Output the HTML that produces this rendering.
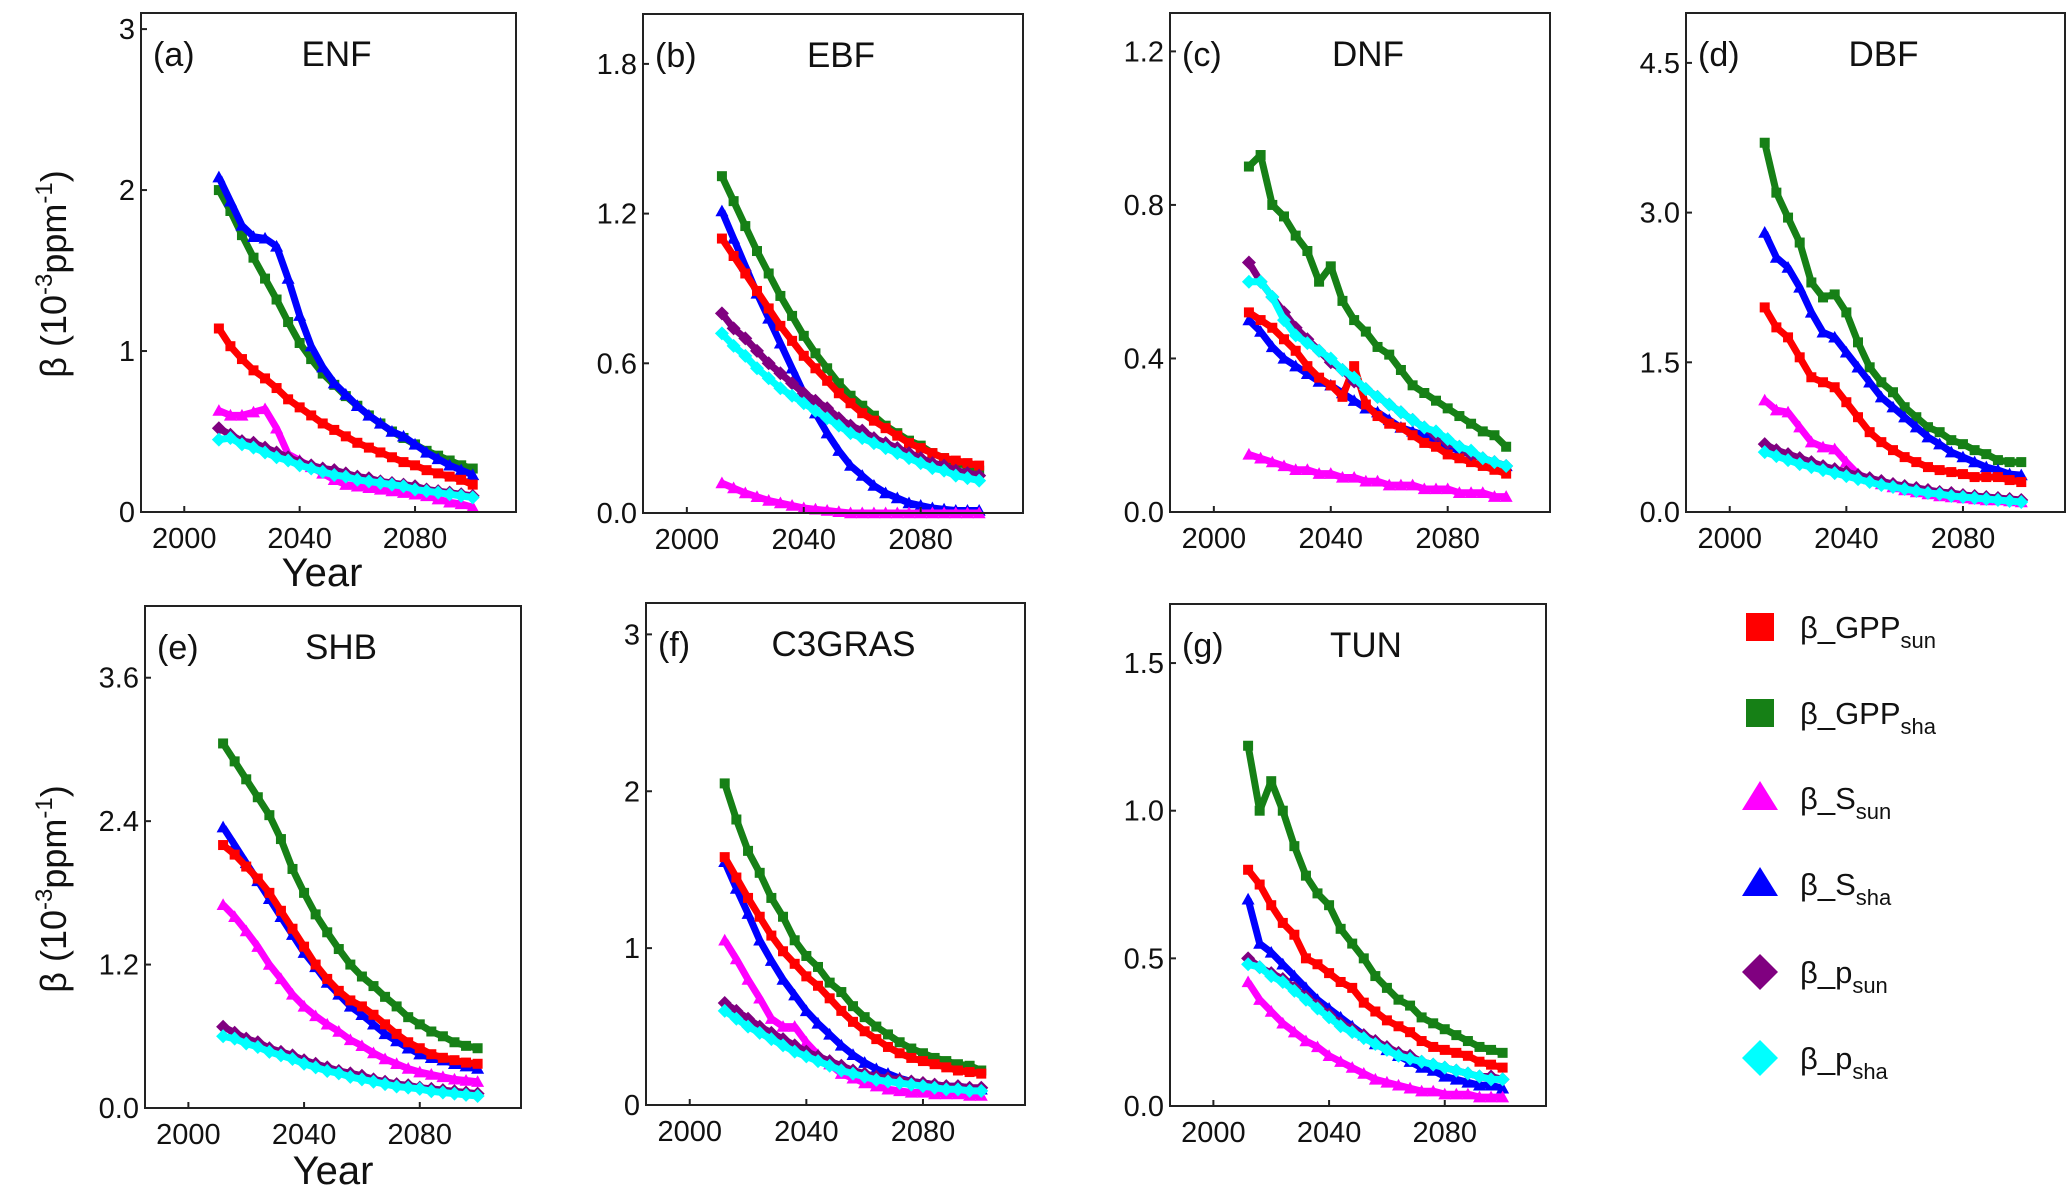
<!DOCTYPE html>
<html><head><meta charset="utf-8"><style>
html,body{margin:0;padding:0;background:#fff;}
svg{display:block;font-family:"Liberation Sans",Arial,sans-serif;}
</style></head><body>
<svg id="fig" width="2067" height="1193" viewBox="0 0 2067 1193" xmlns="http://www.w3.org/2000/svg"></svg>
<script>
const years = [];
for (let y = 2012; y <= 2100; y += 4) years.push(y);
const seriesNames = ['gpp_sun','gpp_sha','s_sun','s_sha','p_sun','p_sha'];
const seriesColors = ['#ff0000','#168016','#ff00ff','#0000ff','#800080','#00ffff'];
const seriesMarkers = ['square','square','triangle','triangle','diamond','diamond'];

const panelIds = ['a','b','c','d','e','f','g'];
const panelTitles = ['ENF','EBF','DNF','DBF','SHB','C3GRAS','TUN'];
const panelYMax = [3.1, 2.0, 1.3, 5.0, 4.2, 3.2, 1.7];
const panelTicks = [[0,1,2,3],[0,0.6,1.2,1.8],[0,0.4,0.8,1.2],[0,1.5,3.0,4.5],[0,1.2,2.4,3.6],[0,1,2,3],[0,0.5,1.0,1.5]];
const panelTickLabels = [['0','1','2','3'],['0.0','0.6','1.2','1.8'],['0.0','0.4','0.8','1.2'],['0.0','1.5','3.0','4.5'],['0.0','1.2','2.4','3.6'],['0','1','2','3'],['0.0','0.5','1.0','1.5']];
const xTicks = [2000, 2040, 2080];

// ENF
const a_gpp_sun = [1.14,1.03,0.95,0.88,0.83,0.77,0.7,0.65,0.6,0.55,0.51,0.47,0.43,0.4,0.37,0.34,0.31,0.29,0.26,0.24,0.22,0.2,0.17];
const a_gpp_sha = [2.0,1.87,1.72,1.58,1.45,1.32,1.18,1.05,0.95,0.86,0.79,0.72,0.66,0.6,0.55,0.5,0.46,0.42,0.38,0.35,0.32,0.29,0.27];
const a_s_sun = [0.63,0.6,0.6,0.62,0.64,0.52,0.36,0.32,0.28,0.24,0.2,0.17,0.16,0.15,0.14,0.13,0.12,0.11,0.1,0.08,0.06,0.05,0.03];
const a_s_sha = [2.08,1.93,1.78,1.71,1.7,1.65,1.45,1.22,1.03,0.9,0.8,0.73,0.66,0.6,0.55,0.5,0.47,0.42,0.37,0.33,0.29,0.26,0.23];
const a_p_sun = [0.52,0.48,0.44,0.43,0.4,0.37,0.34,0.31,0.29,0.27,0.26,0.24,0.22,0.21,0.19,0.18,0.17,0.16,0.14,0.13,0.12,0.11,0.1];
const a_p_sha = [0.45,0.46,0.42,0.4,0.37,0.34,0.32,0.29,0.27,0.25,0.23,0.22,0.2,0.19,0.18,0.17,0.16,0.14,0.13,0.12,0.11,0.1,0.09];
// EBF
const b_gpp_sun = [1.1,1.03,0.96,0.89,0.82,0.75,0.69,0.63,0.58,0.53,0.48,0.44,0.4,0.37,0.34,0.31,0.28,0.26,0.24,0.22,0.21,0.2,0.19];
const b_gpp_sha = [1.35,1.25,1.15,1.05,0.96,0.87,0.79,0.71,0.64,0.58,0.52,0.47,0.43,0.39,0.35,0.32,0.29,0.27,0.24,0.22,0.2,0.19,0.17];
const b_s_sun = [0.12,0.1,0.08,0.065,0.05,0.04,0.03,0.02,0.015,0.01,0.005,0,0,0,0,0,0,0,0,0,0,0,0];
const b_s_sha = [1.21,1.1,0.99,0.88,0.78,0.68,0.58,0.48,0.4,0.32,0.25,0.19,0.15,0.11,0.08,0.06,0.04,0.03,0.02,0.015,0.01,0.01,0.01];
const b_p_sun = [0.8,0.74,0.7,0.65,0.6,0.56,0.52,0.48,0.45,0.42,0.38,0.35,0.33,0.3,0.28,0.26,0.24,0.22,0.2,0.19,0.17,0.16,0.15];
const b_p_sha = [0.72,0.67,0.63,0.58,0.54,0.5,0.47,0.44,0.41,0.38,0.35,0.32,0.3,0.28,0.26,0.24,0.22,0.2,0.18,0.17,0.15,0.14,0.13];
// DNF
const c_gpp_sun = [0.52,0.5,0.48,0.45,0.42,0.38,0.35,0.33,0.3,0.38,0.28,0.25,0.23,0.22,0.2,0.18,0.17,0.15,0.14,0.13,0.12,0.11,0.1];
const c_gpp_sha = [0.9,0.93,0.8,0.77,0.72,0.68,0.6,0.64,0.55,0.5,0.47,0.43,0.41,0.37,0.33,0.31,0.29,0.27,0.25,0.23,0.21,0.2,0.17];
const c_s_sun = [0.15,0.14,0.13,0.12,0.11,0.11,0.1,0.1,0.09,0.09,0.08,0.08,0.07,0.07,0.07,0.06,0.06,0.06,0.05,0.05,0.05,0.04,0.04];
const c_s_sha = [0.5,0.47,0.43,0.4,0.38,0.36,0.34,0.33,0.31,0.29,0.27,0.26,0.24,0.22,0.21,0.2,0.18,0.17,0.16,0.15,0.14,0.13,0.12];
const c_p_sun = [0.65,0.6,0.56,0.52,0.48,0.45,0.42,0.39,0.37,0.34,0.32,0.3,0.28,0.26,0.24,0.22,0.2,0.18,0.17,0.15,0.14,0.13,0.12];
const c_p_sha = [0.6,0.6,0.56,0.5,0.46,0.44,0.42,0.4,0.37,0.35,0.32,0.3,0.28,0.26,0.24,0.22,0.21,0.19,0.17,0.16,0.14,0.13,0.12];
// DBF
const d_gpp_sun = [2.05,1.85,1.75,1.55,1.35,1.3,1.25,1.1,0.95,0.8,0.7,0.62,0.55,0.5,0.45,0.42,0.4,0.38,0.35,0.35,0.35,0.32,0.3];
const d_gpp_sha = [3.7,3.2,2.95,2.7,2.3,2.15,2.18,2.0,1.7,1.45,1.3,1.2,1.05,0.95,0.85,0.8,0.72,0.68,0.62,0.58,0.52,0.5,0.5];
const d_s_sun = [1.12,1.02,1.0,0.85,0.7,0.65,0.63,0.5,0.38,0.33,0.28,0.25,0.22,0.2,0.18,0.16,0.15,0.14,0.13,0.12,0.12,0.11,0.1];
const d_s_sha = [2.8,2.55,2.45,2.25,2.0,1.8,1.75,1.6,1.45,1.3,1.15,1.05,0.95,0.85,0.75,0.68,0.6,0.55,0.5,0.45,0.42,0.38,0.37];
const d_p_sun = [0.68,0.62,0.58,0.54,0.5,0.46,0.43,0.4,0.37,0.34,0.31,0.28,0.26,0.24,0.22,0.2,0.19,0.17,0.16,0.15,0.14,0.13,0.12];
const d_p_sha = [0.6,0.56,0.52,0.48,0.45,0.42,0.39,0.36,0.33,0.3,0.27,0.25,0.23,0.21,0.19,0.18,0.16,0.15,0.14,0.13,0.12,0.11,0.1];
// SHB
const e_gpp_sun = [2.2,2.12,2.02,1.92,1.8,1.65,1.5,1.35,1.2,1.08,0.98,0.9,0.85,0.78,0.7,0.62,0.55,0.5,0.45,0.42,0.4,0.38,0.37];
const e_gpp_sha = [3.05,2.9,2.75,2.6,2.45,2.25,2.0,1.8,1.62,1.47,1.33,1.2,1.1,1.02,0.93,0.85,0.76,0.7,0.64,0.6,0.55,0.52,0.5];
const e_s_sun = [1.7,1.6,1.48,1.35,1.2,1.08,0.95,0.85,0.77,0.7,0.64,0.57,0.52,0.46,0.41,0.37,0.33,0.3,0.28,0.26,0.24,0.23,0.22];
const e_s_sha = [2.35,2.2,2.05,1.9,1.75,1.6,1.45,1.3,1.18,1.05,0.95,0.85,0.78,0.7,0.62,0.56,0.5,0.45,0.42,0.4,0.37,0.35,0.33];
const e_p_sun = [0.68,0.63,0.58,0.55,0.5,0.47,0.44,0.4,0.37,0.34,0.31,0.29,0.27,0.24,0.22,0.2,0.19,0.17,0.16,0.15,0.14,0.13,0.12];
const e_p_sha = [0.6,0.58,0.54,0.51,0.47,0.44,0.41,0.37,0.34,0.31,0.29,0.26,0.24,0.22,0.2,0.18,0.17,0.16,0.14,0.13,0.12,0.11,0.1];
// C3GRAS
const f_gpp_sun = [1.58,1.45,1.32,1.2,1.08,0.98,0.9,0.82,0.76,0.68,0.6,0.53,0.47,0.42,0.37,0.33,0.3,0.28,0.26,0.24,0.22,0.21,0.2];
const f_gpp_sha = [2.05,1.82,1.62,1.48,1.32,1.2,1.05,0.95,0.88,0.78,0.72,0.63,0.56,0.5,0.45,0.4,0.36,0.33,0.3,0.28,0.26,0.25,0.22];
const f_s_sun = [1.05,0.93,0.8,0.68,0.55,0.5,0.5,0.4,0.32,0.26,0.2,0.17,0.14,0.12,0.1,0.09,0.08,0.08,0.07,0.07,0.07,0.06,0.06];
const f_s_sha = [1.55,1.38,1.22,1.05,0.92,0.8,0.7,0.6,0.52,0.45,0.38,0.32,0.27,0.23,0.2,0.17,0.15,0.14,0.13,0.12,0.12,0.11,0.1];
const f_p_sun = [0.65,0.6,0.55,0.5,0.46,0.42,0.38,0.34,0.31,0.28,0.25,0.22,0.2,0.18,0.17,0.16,0.15,0.14,0.13,0.12,0.12,0.11,0.11];
const f_p_sha = [0.6,0.55,0.5,0.46,0.42,0.38,0.34,0.31,0.28,0.25,0.22,0.2,0.18,0.16,0.15,0.14,0.13,0.12,0.11,0.1,0.1,0.09,0.09];
// TUN
const g_gpp_sun = [0.8,0.75,0.68,0.62,0.58,0.5,0.48,0.45,0.42,0.4,0.35,0.32,0.29,0.27,0.25,0.22,0.2,0.19,0.18,0.17,0.15,0.14,0.13];
const g_gpp_sha = [1.22,1.0,1.1,1.0,0.88,0.78,0.72,0.68,0.6,0.55,0.5,0.44,0.4,0.36,0.34,0.3,0.28,0.26,0.24,0.22,0.2,0.19,0.18];
const g_s_sun = [0.42,0.36,0.32,0.28,0.25,0.22,0.2,0.17,0.15,0.13,0.11,0.09,0.08,0.07,0.06,0.05,0.05,0.04,0.04,0.04,0.03,0.03,0.03];
const g_s_sha = [0.7,0.55,0.52,0.48,0.44,0.4,0.36,0.33,0.3,0.27,0.24,0.21,0.19,0.17,0.15,0.13,0.12,0.1,0.09,0.08,0.07,0.07,0.06];
const g_p_sun = [0.5,0.47,0.45,0.43,0.4,0.37,0.34,0.31,0.28,0.26,0.24,0.22,0.2,0.18,0.17,0.15,0.14,0.13,0.12,0.11,0.1,0.1,0.09];
const g_p_sha = [0.48,0.47,0.44,0.42,0.39,0.36,0.33,0.3,0.27,0.25,0.23,0.21,0.19,0.17,0.16,0.15,0.14,0.13,0.12,0.11,0.1,0.09,0.09];

const panelData = [
 [a_gpp_sun,a_gpp_sha,a_s_sun,a_s_sha,a_p_sun,a_p_sha],
 [b_gpp_sun,b_gpp_sha,b_s_sun,b_s_sha,b_p_sun,b_p_sha],
 [c_gpp_sun,c_gpp_sha,c_s_sun,c_s_sha,c_p_sun,c_p_sha],
 [d_gpp_sun,d_gpp_sha,d_s_sun,d_s_sha,d_p_sun,d_p_sha],
 [e_gpp_sun,e_gpp_sha,e_s_sun,e_s_sha,e_p_sun,e_p_sha],
 [f_gpp_sun,f_gpp_sha,f_s_sun,f_s_sha,f_p_sun,f_p_sha],
 [g_gpp_sun,g_gpp_sha,g_s_sun,g_s_sha,g_p_sun,g_p_sha]
];
const drawOrder = [1,3,0,2,4,5];

const layout = [
 {x0:141,x1:516,y0:13,y1:512},
 {x0:643,x1:1023,y0:14,y1:513},
 {x0:1170,x1:1550,y0:13,y1:512},
 {x0:1686,x1:2065,y0:13,y1:512},
 {x0:145,x1:521,y0:606,y1:1108},
 {x0:646,x1:1025,y0:603,y1:1105},
 {x0:1170,x1:1546,y0:604,y1:1106}
];

const NS = 'http://www.w3.org/2000/svg';
const svg = document.getElementById('fig');
function mk(tag, attrs, parent) {
  const el = document.createElementNS(NS, tag);
  for (const k in attrs) el.setAttribute(k, attrs[k]);
  (parent || svg).appendChild(el);
  return el;
}
function markerPath(type, x, y) {
  if (type === 'square') { const s = 5; return `M${x-s},${y-s}H${x+s}V${y+s}H${x-s}Z`; }
  if (type === 'triangle') { const s = 6.5; return `M${x},${y-s}L${x+s},${y+s*0.8}L${x-s},${y+s*0.8}Z`; }
  const s = 7; return `M${x},${y-s}L${x+s},${y}L${x},${y+s}L${x-s},${y}Z`;
}

panelIds.forEach((pid, pi) => {
  const L = layout[pi];
  const xs = v => L.x0 + (v - 1985) / 130 * (L.x1 - L.x0);
  const ys = v => L.y1 - v / panelYMax[pi] * (L.y1 - L.y0);
  const g = mk('g', {});
  
  
  const data = panelData[pi];
  drawOrder.forEach(si => {
    const sg = mk('g', {}, g);
    
    
    const pts = data[si].map((v, i) => xs(years[i]).toFixed(1) + ',' + ys(v).toFixed(1)).join(' ');
    const pl = mk('polyline', {points: pts, fill: 'none', stroke: seriesColors[si], 'stroke-width': 7, 'stroke-linejoin': 'round'}, sg);
    
    
    data[si].forEach((v, i) => {
      const m = mk('path', {d: markerPath(seriesMarkers[si], xs(years[i]), ys(v)), fill: seriesColors[si]}, sg);
      
      
    });
  });
  const frame = mk('rect', {x: L.x0, y: L.y0, width: L.x1 - L.x0, height: L.y1 - L.y0, fill: 'none', stroke: '#222', 'stroke-width': 2}, g);
  
  
  panelTicks[pi].forEach((t, ti) => {
    const y = ys(t);
    mk('line', {x1: L.x0, x2: L.x0 + 6, y1: y, y2: y, stroke: '#222', 'stroke-width': 2}, g);
    const tx = mk('text', {x: L.x0 - 6, y: y + 10, 'text-anchor': 'end', 'font-size': 29, fill: '#111'}, g);
    tx.textContent = panelTickLabels[pi][ti];
    
    
  });
  xTicks.forEach(t => {
    const x = xs(t);
    mk('line', {x1: x, x2: x, y1: L.y1, y2: L.y1 - 6, stroke: '#222', 'stroke-width': 2}, g);
    const tx = mk('text', {x: x, y: L.y1 + 36, 'text-anchor': 'middle', 'font-size': 29, fill: '#111'}, g);
    tx.textContent = String(t);
    
    
  });
  const lab = mk('text', {x: L.x0 + 12, y: L.y0 + 53, 'font-size': 34, fill: '#111'}, g);
  lab.textContent = '(' + pid + ')';
  
  
  const ttl = mk('text', {x: (L.x0 + L.x1) / 2 + 8, y: L.y0 + 53, 'text-anchor': 'middle', 'font-size': 35, fill: '#111'}, g);
  ttl.textContent = panelTitles[pi];
  
  
});

[[274, 'y-axis-title-top'], [889, 'y-axis-title-bottom']].forEach(([cy, nm]) => {
  const t = mk('text', {x: 0, y: 0, transform: `translate(66,${cy}) rotate(-90)`, 'text-anchor': 'middle', 'font-size': 36, fill: '#111'});
  t.innerHTML = 'β (10<tspan dy="-14" font-size="24">-3</tspan><tspan dy="14">ppm</tspan><tspan dy="-14" font-size="24">-1</tspan><tspan dy="14">)</tspan>';
  
  
});
[[322, 586, 'x-axis-title-top'], [333, 1184, 'x-axis-title-bottom']].forEach(([cx, cy, nm]) => {
  const t = mk('text', {x: cx, y: cy, 'text-anchor': 'middle', 'font-size': 40, fill: '#111'});
  t.textContent = 'Year';
  
  
});

const legendSubs = ['sun','sha','sun','sha','sun','sha'];
const legendBase = ['β_GPP','β_GPP','β_S','β_S','β_p','β_p'];
const legendY = [627, 713, 798, 884, 972, 1058];
const lg = mk('g', {});


legendY.forEach((cy, i) => {
  const e = mk('g', {}, lg);
  
  
  const cx = 1760;
  let d;
  if (seriesMarkers[i] === 'square') d = `M${cx-14},${cy-14}H${cx+14}V${cy+14}H${cx-14}Z`;
  else if (seriesMarkers[i] === 'triangle') d = `M${cx},${cy-17}L${cx+18},${cy+12}L${cx-18},${cy+12}Z`;
  else d = `M${cx},${cy-18}L${cx+18},${cy}L${cx},${cy+18}L${cx-18},${cy}Z`;
  mk('path', {d: d, fill: seriesColors[i]}, e);
  const t = mk('text', {x: 1800, y: cy + 11, 'font-size': 31, fill: '#111'}, e);
  t.innerHTML = legendBase[i] + '<tspan dy="10" font-size="22">' + legendSubs[i] + '</tspan>';
});
</script>
</body></html>
